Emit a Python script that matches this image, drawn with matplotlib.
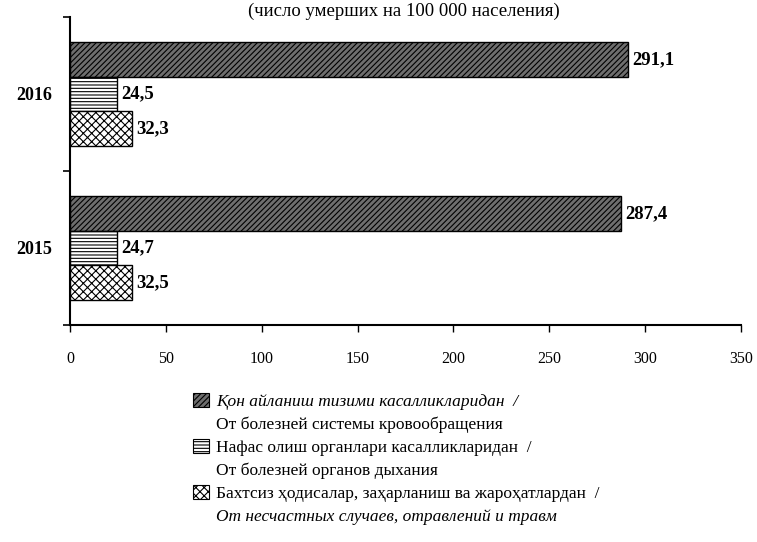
import matplotlib
matplotlib.use("Agg")
import matplotlib.pyplot as plt
from matplotlib.patches import Patch
import numpy as np

plt.rcParams['font.family'] = ['Liberation Serif', 'DejaVu Serif']
plt.rcParams['hatch.linewidth'] = 0.8

years = ["2015", "2016"]
circulation = [287.4, 291.1]
respiratory = [24.7, 24.5]
accidents = [32.5, 32.3]
series_names = [
    ("Қон айланиш тизими касалликларидан  /", "От болезней системы кровообращения"),
    ("Нафас олиш органлари касалликларидан  /", "От болезней органов дыхания"),
    ("Бахтсиз ҳодисалар, заҳарланиш ва жароҳатлардан  /", "От несчастных случаев, отравлений и травм"),
]
title = "(число умерших на 100 000 населения)"
xticks = [0, 50, 100, 150, 200, 250, 300, 350]

fig = plt.figure(figsize=(7.57, 5.42), dpi=100)
ax = fig.add_axes([70/757, 1-325/542, 671/757, 308/542])

y = np.arange(len(years))
h = 0.224
styles = [
    dict(facecolor="#6e6e6e", hatch="//////", edgecolor="black"),
    dict(facecolor="white", hatch="-----", edgecolor="black"),
    dict(facecolor="white", hatch="xxxx", edgecolor="black"),
]
data = [circulation, respiratory, accidents]
offsets = [h, 0, -h]
for vals, off, st in zip(data, offsets, styles):
    bars = ax.barh(y + off, vals, height=h, linewidth=1.0, **st)
    for b, v in zip(bars, vals):
        ax.text(b.get_width() + 2, b.get_y() + b.get_height()/2,
                f"{v:.1f}".replace(".", ","), va="center", ha="left",
                fontsize=13.5, fontweight="bold")

ax.set_xlim(0, 350)
ax.set_ylim(-0.5, 1.5)
ax.set_xticks(xticks)
ax.set_xticklabels([str(t) for t in xticks], fontsize=11.5)
ax.set_yticks(y)
ax.set_yticklabels(years, fontsize=13, fontweight="bold")
ax.set_yticks([-0.5, 0.5, 1.5], minor=True)
ax.tick_params(axis="y", which="major", length=0, pad=13)
ax.tick_params(axis="y", which="minor", length=5, width=1.2, direction="out")
ax.tick_params(axis="x", which="major", length=5, width=1.0, direction="out", pad=14)
for s in ["top", "right"]:
    ax.spines[s].set_visible(False)
ax.spines["left"].set_linewidth(1.5)
ax.spines["bottom"].set_linewidth(1.5)

fig.text(404/757, 1 - 11/542, title, ha="center", va="center", fontsize=13.5)

handles, labels = [], []
empty = Patch(facecolor="none", edgecolor="none")
for (l1, l2), st in zip(series_names, styles):
    handles.append(Patch(linewidth=0.8, **st))
    labels.append(l1)
    handles.append(empty)
    labels.append(l2)
leg = fig.legend(handles, labels, loc="upper left", bbox_to_anchor=(186/757, 1 - 386/542),
                 frameon=False, fontsize=12.5, handlelength=0.95, handleheight=0.9,
                 handletextpad=0.4, labelspacing=0.33, borderaxespad=0)
texts = leg.get_texts()
texts[0].set_style("italic")
texts[5].set_style("italic")

fig.savefig("out.png", dpi=100)
